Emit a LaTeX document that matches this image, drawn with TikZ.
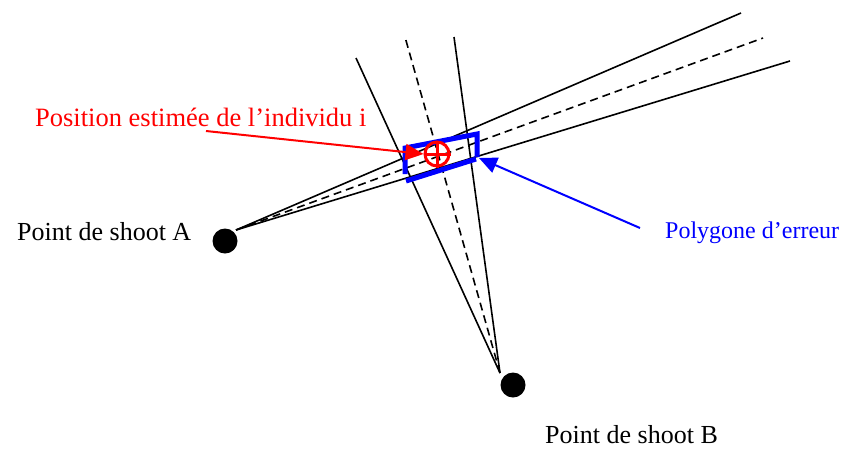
\documentclass[tikz,border=0pt]{standalone}
\usepackage{fontspec}
\setmainfont{Liberation Serif}
\usetikzlibrary{arrows.meta}

\begin{document}
\begin{tikzpicture}[x=1pt, y=-1pt, >={Triangle[length=18pt, width=16pt]}, every node/.style={font=\fontsize{26}{30}\selectfont}]
  % Define styles
  \tikzstyle{shot} = [circle, fill=black, inner sep=0pt, minimum size=25pt]
  \tikzstyle{ray} = [line width=1.6pt]
  \tikzstyle{axis} = [line width=1.6pt, dash pattern=on 8pt off 5pt]
  \tikzstyle{caption} = [anchor=base west, inner sep=0pt]

  \useasboundingbox (0,0) rectangle (842,448);

  % Nodes
  \node[shot] (dotA) at (225,241) {};
  \node[shot] (dotB) at (513,385) {};
  \coordinate (srcA) at (236,230);
  \coordinate (srcB) at (500,373);

  \node[caption] (labA) at (17,240) {Point de shoot A};
  \node[caption] (labB) at (545,443) {Point de shoot B};
  \node[caption, text=red, font=\fontsize{26.5}{30}\selectfont] (labEst) at (35,126) {Position estimée de l’individu i};
  \node[caption, text=blue, font=\fontsize{24}{28}\selectfont] (labPoly) at (665,238) {Polygone d’erreur};

  % Line ends
  \coordinate (endA1) at (741,13);
  \coordinate (endA2) at (763,38);
  \coordinate (endA3) at (790,61);
  \coordinate (endB1) at (356,58);
  \coordinate (endB2) at (405,37);
  \coordinate (endB3) at (454,37);

  % Lines
  \draw[ray] (srcA) -- (endA1);
  \draw[axis] (srcA) -- (endA2);
  \draw[ray] (srcA) -- (endA3);
  \draw[ray] (srcB) -- (endB1);
  \draw[axis] (srcB) -- (endB2);
  \draw[ray] (srcB) -- (endB3);

  % Error polygon
  \coordinate (polyA) at (405,174);
  \coordinate (polyB) at (405,148);
  \coordinate (polyC) at (477,134);
  \coordinate (polyD) at (477,157);
  \coordinate (polyE) at (406,181);
  \coordinate (polyF) at (476,159);
  \draw[blue, line width=5pt] (polyA) -- (polyB) -- (polyC) -- (polyD);
  \draw[blue, line width=5pt] (polyE) -- (polyF);

  % Estimated position
  \node[circle, draw=red, line width=3pt, minimum size=24pt, inner sep=0pt] (est) at (437,154) {};
  \draw[red, line width=3pt] (est.north) -- (est.south) (est.west) -- (est.east);

  % Arrows
  \coordinate (estTail) at (206,131);
  \coordinate (polyTail) at (640,228);
  \draw[->, red, line width=2pt] (estTail) -- (est.west);
  \draw[->, blue, line width=2pt] (polyTail) -- (479,158);
\end{tikzpicture}
\end{document}
